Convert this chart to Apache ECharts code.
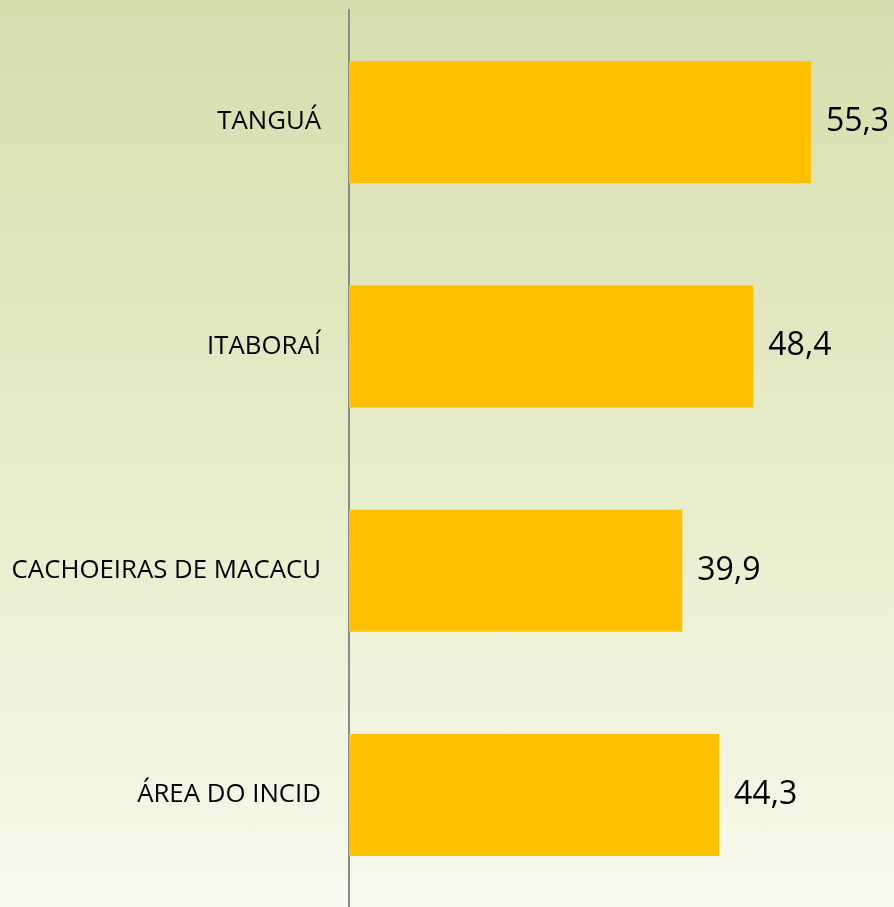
<!DOCTYPE html>
<html><head><meta charset="utf-8">
<script src="https://cdn.jsdelivr.net/npm/echarts@6/dist/echarts.min.js"></script>
<style>html,body{margin:0;padding:0;}#c{width:894px;height:907px;background:linear-gradient(to bottom,#d5dead 0%,#e6ecc8 50%,#f8f9ed 100%);}</style>
</head><body><div id="c"></div>
<script>
const categories = ['TANGUÁ', 'ITABORAÍ', 'CACHOEIRAS DE MACACU', 'ÁREA DO INCID'];
const values = [55.3, 48.4, 39.9, 44.3];

const chart = echarts.init(document.getElementById('c'));
chart.setOption({
  backgroundColor: 'transparent',
  animation: false,
  grid: { left: 349, right: 43.8, top: 10, height: 900 },
  xAxis: { type: 'value', min: 0, max: 60, show: false },
  yAxis: {
    type: 'category', data: categories, inverse: true,
    axisLine: { show: true, lineStyle: { color: '#8a8a8a', width: 2 } },
    axisTick: { show: false },
    axisLabel: { margin: 28, color: '#000', fontSize: 25.8, fontFamily: 'Open Sans', padding: [4, 0, 0, 0] }
  },
  series: [{
    type: 'bar', data: values, barWidth: 122,
    itemStyle: { color: '#ffc000' },
    label: {
      show: true, position: 'right', distance: 15, color: '#000',
      fontSize: 32, fontFamily: 'Open Sans',
      formatter: p => String(p.value).replace('.', ',')
    }
  }]
});
</script></body></html>
